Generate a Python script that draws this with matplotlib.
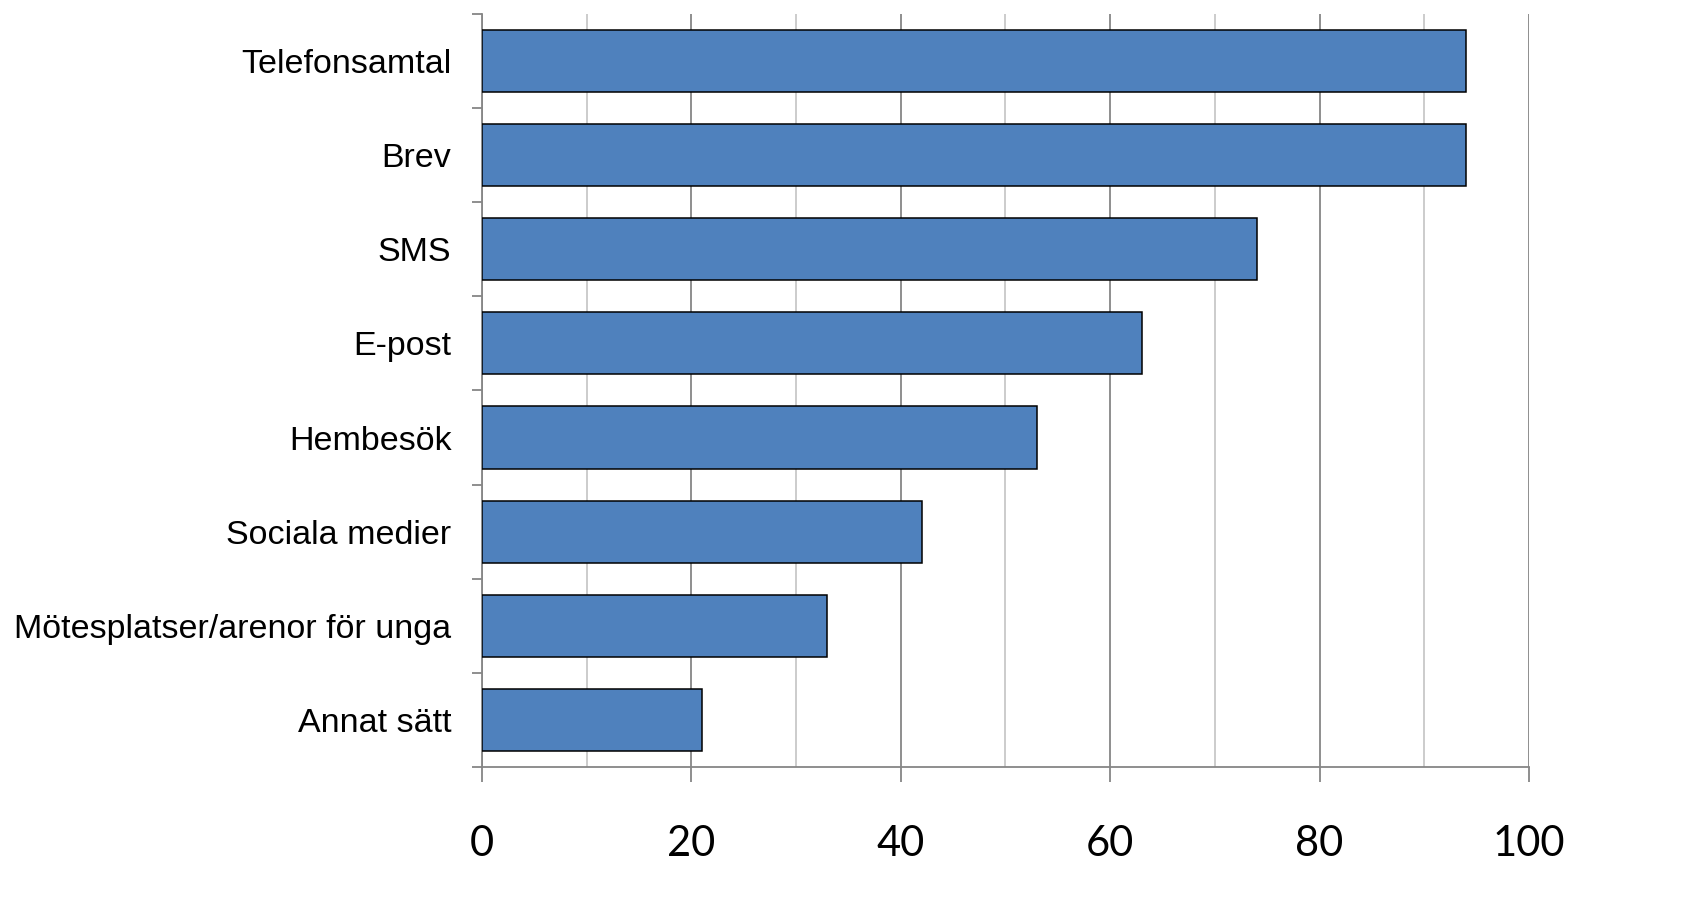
import numpy as np
import matplotlib
matplotlib.use("Agg")
import matplotlib.pyplot as plt
from matplotlib.ticker import MultipleLocator, FixedLocator

# data
categories = ["Telefonsamtal", "Brev", "SMS", "E-post", "Hembesök",
              "Sociala medier", "Mötesplatser/arenor för unga", "Annat sätt"]
values = [94, 94, 74, 63, 53, 42, 33, 21]

fig = plt.figure(figsize=(16.96, 9.08), dpi=100)
ax = fig.add_axes([0.2842, 0.1553, 0.6173, 0.8293])

y = np.arange(len(categories))
ax.barh(y, values, height=0.66, color="#4F81BD", edgecolor="black", linewidth=1.1, zorder=3)

ax.set_xlim(0, 100)
ax.set_ylim(len(categories) - 0.5, -0.5)

# x gridlines: majors darker, minors lighter
ax.xaxis.set_major_locator(MultipleLocator(20))
ax.xaxis.set_minor_locator(MultipleLocator(10))
ax.grid(axis="x", which="major", color="#868686", linewidth=1.3, zorder=0)
ax.grid(axis="x", which="minor", color="#c4c4c4", linewidth=1.2, zorder=0)

# y ticks: labels at centers, tick marks at category boundaries
ax.set_yticks(y)
ax.set_yticklabels(categories, fontsize=24.5, family=["Liberation Sans", "DejaVu Sans"])
ax.yaxis.set_minor_locator(FixedLocator(np.arange(-0.5, len(categories), 1.0)))
ax.tick_params(axis="y", which="major", length=0, pad=22)
ax.tick_params(axis="y", which="minor", length=7, width=1.3, color="#868686")

ax.tick_params(axis="x", which="major", length=11, width=1.3, color="#868686",
               labelsize=30, pad=31)
ax.tick_params(axis="x", which="minor", length=0)
for lab in ax.get_xticklabels():
    lab.set_family(["Lato", "DejaVu Sans"])

for s in ["top", "right"]:
    ax.spines[s].set_visible(False)
for s in ["left", "bottom"]:
    ax.spines[s].set_color("#868686")
    ax.spines[s].set_linewidth(1.3)

fig.savefig("out.png", dpi=100)
